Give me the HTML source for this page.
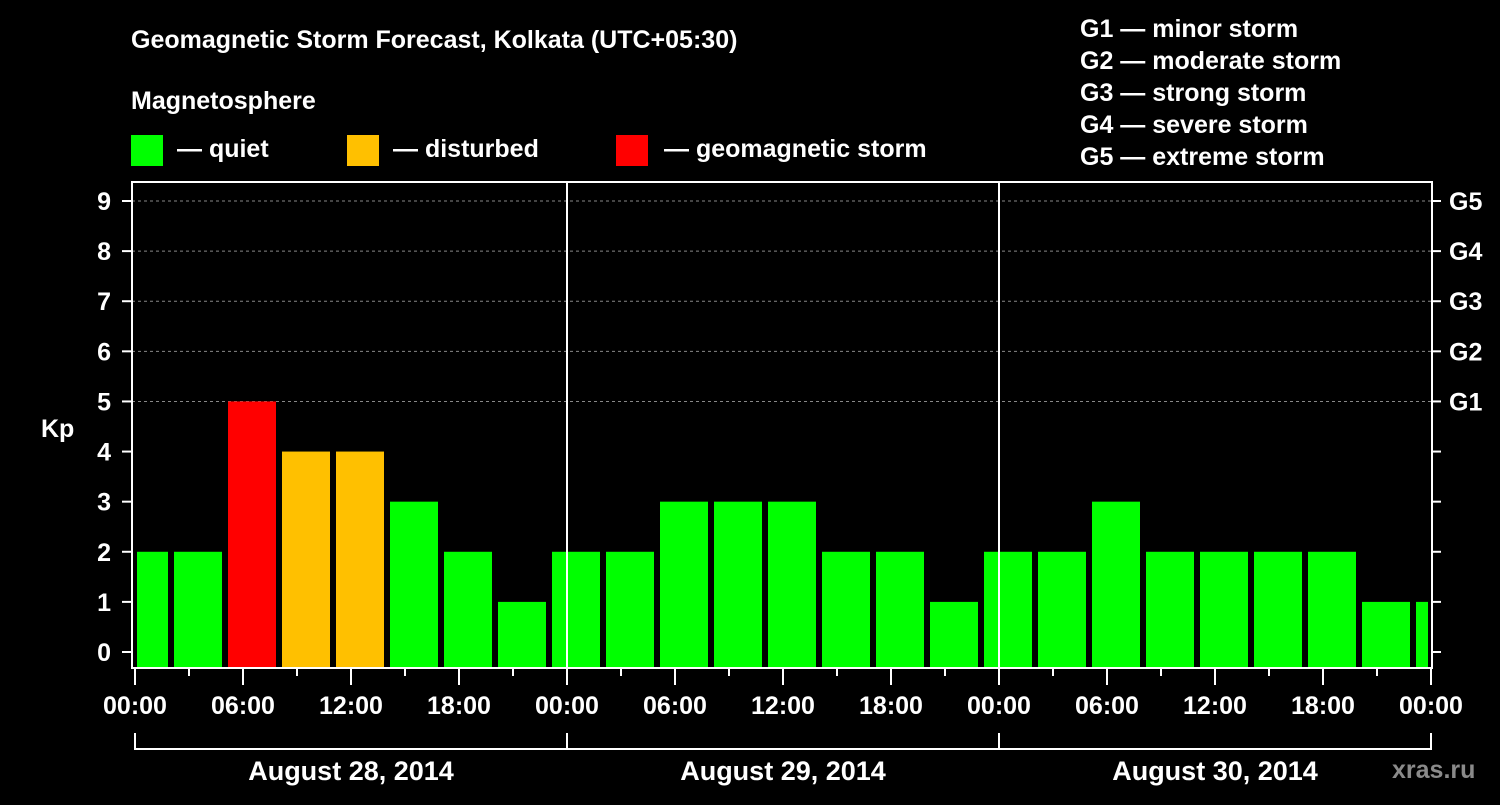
<!DOCTYPE html>
<html><head><meta charset="utf-8"><style>
html,body{margin:0;padding:0;background:#000;}
svg text{font-family:"Liberation Sans",sans-serif;font-weight:bold;fill:#fff;}
</style></head><body>
<svg id="chart" width="1500" height="800" viewBox="0 0 1500 800" xmlns="http://www.w3.org/2000/svg">
<rect width="1500" height="800" fill="#000"/>
<text x="131" y="48" font-size="25">Geomagnetic Storm Forecast, Kolkata (UTC+05:30)</text>
<text x="131" y="109" font-size="25">Magnetosphere</text>
<g>
<rect x="131" y="135" width="32" height="31" fill="#00ff00"/>
<text x="177" y="157" font-size="25">— quiet</text>
<rect x="347" y="135" width="32" height="31" fill="#ffc000"/>
<text x="393" y="157" font-size="25">— disturbed</text>
<rect x="616" y="135" width="32" height="31" fill="#ff0000"/>
<text x="664" y="157" font-size="25">— geomagnetic storm</text>
</g>
<g font-size="25">
<text x="1080" y="37">G1 — minor storm</text>
<text x="1080" y="69">G2 — moderate storm</text>
<text x="1080" y="101">G3 — strong storm</text>
<text x="1080" y="133">G4 — severe storm</text>
<text x="1080" y="165">G5 — extreme storm</text>
</g>
<text x="41" y="437" font-size="25">Kp</text>
<text x="1392" y="778" font-size="25" fill="#888" style="fill:#8a8a8a">xras.ru</text>
<g id="grid"></g>
<g id="bars"></g>
<g id="axes"></g>
</svg>
<script>
const kpValues = [2,2,5,4,4,3,2,1,2,2,3,3,3,2,2,1,2,2,3,2,2,2,2,1,1];
const barStartHours = [-1,2,5,8,11,14,17,20,23,26,29,32,35,38,41,44,47,50,53,56,59,62,65,68,71];
const yTickLabels = ["0","1","2","3","4","5","6","7","8","9"];
const gLabels = ["G1","G2","G3","G4","G5"];
const gLevels = [5,6,7,8,9];
const xTickLabels = ["00:00","06:00","12:00","18:00","00:00","06:00","12:00","18:00","00:00","06:00","12:00","18:00","00:00"];
const dateLabels = ["August 28, 2014","August 29, 2014","August 30, 2014"];

const NS="http://www.w3.org/2000/svg";
const X0=135, HOURS=72, XW=1296, PL=132, PR=1432, PT=182, PB=668;
const xs=h=>X0+h*XW/HOURS;
const ys=v=>652-v*(652-201)/9;
function mk(tag,attrs,parent){const e=document.createElementNS(NS,tag);for(const k in attrs)e.setAttribute(k,attrs[k]);parent.appendChild(e);return e;}
const grid=document.getElementById('grid'),bars=document.getElementById('bars'),axes=document.getElementById('axes');

gLevels.forEach((lv,i)=>{
  const l=mk('line',{x1:PL,x2:PR,y1:ys(lv),y2:ys(lv),stroke:'#888','stroke-dasharray':'3,3','stroke-width':1},grid);
  
  
  const t=mk('text',{x:1449,y:ys(lv)+9,'font-size':25},axes);t.textContent=gLabels[i];
  
  
});

kpValues.forEach((v,i)=>{
  const s=barStartHours[i];
  let x1=Math.max(xs(s)+3,X0+2), x2=Math.min(xs(s+3)-3,PR-4);
  const color=v>=5?'#ff0000':(v>=4?'#ffc000':'#00ff00');
  const r=mk('rect',{x:x1,y:ys(v),width:x2-x1,height:PB-1-ys(v),fill:color},bars);
  
  
});

// frame
const fr=mk('rect',{x:PL,y:PT,width:PR-PL,height:PB-PT,fill:'none',stroke:'#fff','stroke-width':2},axes);


// day separators
[1,2].forEach(d=>{
  const l=mk('line',{x1:xs(d*24),x2:xs(d*24),y1:PT,y2:PB,stroke:'#fff','stroke-width':2},axes);
  
  
});
// y ticks
yTickLabels.forEach((lab,i)=>{
  const y=ys(i);
  mk('line',{x1:122,x2:PL,y1:y,y2:y,stroke:'#fff','stroke-width':2},axes);
  mk('line',{x1:PR,x2:1441,y1:y,y2:y,stroke:'#fff','stroke-width':2},axes);
  const t=mk('text',{x:111,y:y+9,'font-size':25,'text-anchor':'end'},axes);t.textContent=lab;
  
  
});
// x ticks
for(let h=0;h<=HOURS;h+=3){
  const major=h%6===0;
  mk('line',{x1:xs(h),x2:xs(h),y1:PB,y2:major?685:676,stroke:'#fff','stroke-width':2},axes);
}
xTickLabels.forEach((lab,i)=>{
  const t=mk('text',{x:xs(i*6),y:714,'font-size':25,'text-anchor':'middle'},axes);t.textContent=lab;
  
  
});
// date bracket
mk('line',{x1:xs(0),x2:xs(HOURS),y1:749,y2:749,stroke:'#fff','stroke-width':2},axes);
for(let d=0;d<=3;d++) mk('line',{x1:xs(d*24),x2:xs(d*24),y1:733,y2:750,stroke:'#fff','stroke-width':2},axes);
dateLabels.forEach((lab,i)=>{
  const t=mk('text',{x:xs(i*24+12),y:780,'font-size':27,'text-anchor':'middle'},axes);t.textContent=lab;
  
  
});
</script>
</body></html>
